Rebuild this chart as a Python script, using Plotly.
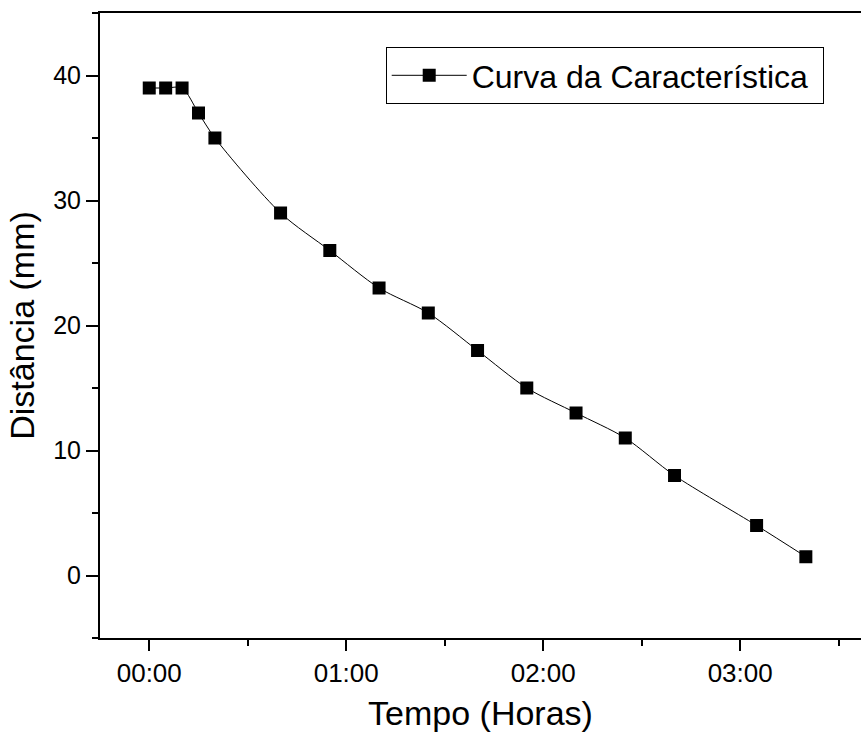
import plotly.graph_objects as go

# Data (time in minutes, distance in mm)
tempo_min = [0, 5, 10, 15, 20, 40, 55, 70, 85, 100, 115, 130, 145, 160, 185, 200]
distancia = [39, 39, 39, 37, 35, 29, 26, 23, 21, 18, 15, 13, 11, 8, 4, 1.5]

x_tick_vals = [0, 60, 120, 180]
x_tick_text = ["00:00", "01:00", "02:00", "03:00"]
x_minor_vals = [30, 90, 150, 210]

FONT = "Liberation Sans, Arial, Helvetica, sans-serif"

fig = go.Figure()
fig.add_trace(go.Scatter(
    x=tempo_min, y=distancia,
    mode="lines+markers",
    name="Curva da Característica\u00a0",
    line=dict(color="black", width=1, shape="spline", smoothing=0.8),
    marker=dict(symbol="square", size=13, color="black"),
))

fig.update_layout(
    width=861, height=735,
    margin=dict(l=100, r=0, t=13, b=97),
    paper_bgcolor="white", plot_bgcolor="white",
    font=dict(family=FONT, color="black", size=26),
    showlegend=True,
    legend=dict(
        x=0.951, y=0.9456, xanchor="right", yanchor="top",
        bgcolor="white", bordercolor="black", borderwidth=1,
        font=dict(size=32, family=FONT, color="black"),
        itemwidth=75,
    ),
)

fig.update_xaxes(
    range=[-15, 216.8],
    tickmode="array", tickvals=x_tick_vals, ticktext=x_tick_text,
    ticks="outside", ticklen=11, tickwidth=2, tickcolor="black",
    minor=dict(tickmode="array", tickvals=x_minor_vals, ticks="outside", ticklen=6, tickwidth=2, tickcolor="black"),
    showline=True, linecolor="black", linewidth=2, mirror=True,
    showgrid=False, zeroline=False,
    tickfont=dict(size=26, family=FONT),
    title=dict(text="Tempo (Horas)", font=dict(size=34, family=FONT), standoff=14),
)
fig.update_yaxes(
    range=[-5, 45],
    tickmode="linear", tick0=0, dtick=10,
    ticks="outside", ticklen=12, tickwidth=2, tickcolor="black",
    minor=dict(dtick=5, tick0=0, ticks="outside", ticklen=6, tickwidth=2, tickcolor="black"),
    showline=True, linecolor="black", linewidth=2,
    showgrid=False, zeroline=False,
    tickfont=dict(size=25, family=FONT),
    title=dict(text="Distância (mm)", font=dict(size=34, family=FONT), standoff=8),
)

fig.write_html("out.html")
